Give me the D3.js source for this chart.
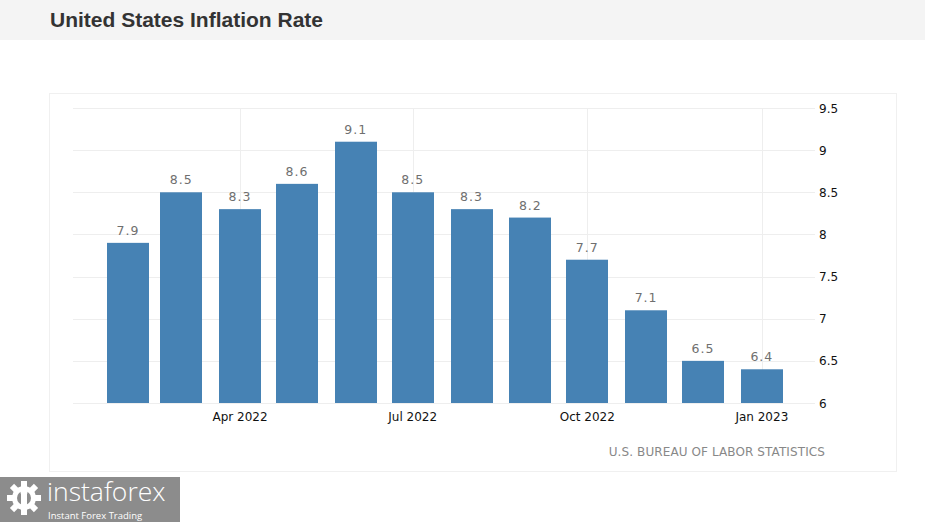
<!DOCTYPE html>
<html><head><meta charset="utf-8">
<script src="https://cdn.jsdelivr.net/npm/d3@7"></script>
<style>
html,body{margin:0;padding:0;background:#fff;}
svg{display:block;}
</style></head>
<body>
<svg id="chart" width="925" height="522"></svg>
<script>
const months = ["2022-02","2022-03","2022-04","2022-05","2022-06","2022-07","2022-08","2022-09","2022-10","2022-11","2022-12","2023-01"];
const values = [7.9,8.5,8.3,8.6,9.1,8.5,8.3,8.2,7.7,7.1,6.5,6.4];
const xTickDates = ["2022-04","2022-07","2022-10","2023-01"];
const xTickLabels = ["Apr 2022","Jul 2022","Oct 2022","Jan 2023"];
const yTicks = [6,6.5,7,7.5,8,8.5,9,9.5];
const yTickLabels = ["6","6.5","7","7.5","8","8.5","9","9.5"];

const parse = d3.timeParse("%Y-%m");
const svg = d3.select("#chart");

// header band
svg.append("rect").attr("x",0).attr("y",0).attr("width",925).attr("height",40).attr("fill","#f4f4f4");
svg.append("text").attr("x",50).attr("y",27).text("United States Inflation Rate")
  .attr("font-family","Liberation Sans, Arial, sans-serif").attr("font-weight","bold")
  .attr("font-size",21).attr("fill","#333");

// panel border
svg.append("rect").attr("x",49.5).attr("y",93.5).attr("width",847).attr("height",378)
  .attr("fill","none").attr("stroke","#f0f0f0");

const x = d3.scaleTime().domain([new Date(2022,0,3), new Date(2023,0,29)]).range([73,815]);
const y = d3.scaleLinear().domain([6,9.5]).range([403,108]);

// grid
const gy = svg.append("g");
gy.selectAll("line").data(yTicks).join("line")
  .attr("x1",73).attr("x2",815).attr("y1",d=>Math.round(y(d))+0.5).attr("y2",d=>Math.round(y(d))+0.5)
  .attr("stroke","#eeeeee");
const gx = svg.append("g");
gx.selectAll("line").data(xTickDates).join("line")
  .attr("x1",d=>Math.round(x(parse(d)))+0.5).attr("x2",d=>Math.round(x(parse(d)))+0.5)
  .attr("y1",108).attr("y2",403).attr("stroke","#eeeeee");

// bars
const bw = 42;
svg.append("g").selectAll("rect").data(months).join("rect")
  .attr("x",(d)=>Math.round(x(parse(d))-bw/2))
  .attr("y",(d,i)=>y(values[i]))
  .attr("width",bw)
  .attr("height",(d,i)=>y(6)-y(values[i]))
  .attr("fill","#4682b4");

// value labels
svg.append("g").selectAll("text").data(months).join("text")
  .attr("x",d=>x(parse(d)))
  .attr("y",(d,i)=>y(values[i])-8)
  .attr("text-anchor","middle")
  .attr("font-family","DejaVu Sans, sans-serif").attr("font-size",12.5)
  .attr("letter-spacing",1)
  .attr("fill","#6f6f6f")
  .text((d,i)=>values[i]);

// x axis labels
svg.append("g").selectAll("text").data(xTickDates).join("text")
  .attr("x",d=>x(parse(d))).attr("y",421)
  .attr("text-anchor","middle")
  .attr("font-family","DejaVu Sans, sans-serif").attr("font-size",12)
  .attr("fill","#111")
  .text((d,i)=>xTickLabels[i]);

// y axis labels
svg.append("g").selectAll("text").data(yTicks).join("text")
  .attr("x",819).attr("y",d=>y(d)+4.5)
  .attr("font-family","DejaVu Sans, sans-serif").attr("font-size",12)
  .attr("fill","#111")
  .text((d,i)=>yTickLabels[i]);

// source
svg.append("text").attr("x",825).attr("y",456).attr("text-anchor","end")
  .attr("font-family","DejaVu Sans, sans-serif").attr("font-size",12)
  .attr("letter-spacing",0.1)
  .attr("fill","#888").text("U.S. BUREAU OF LABOR STATISTICS");

// logo
const logo = svg.append("g");
logo.append("rect").attr("x",0).attr("y",477).attr("width",180).attr("height",45).attr("fill","#8c8c8c");
const gear = logo.append("g").attr("transform","translate(24,498)");
const teeth = d3.range(8);
gear.selectAll("rect").data(teeth).join("rect")
  .attr("x",-3).attr("y",-17).attr("width",6).attr("height",8)
  .attr("fill","#fff").attr("transform",d=>`rotate(${d*45})`);
gear.append("circle").attr("r",12).attr("fill","#fff");
gear.append("circle").attr("r",7).attr("fill","#8c8c8c");
gear.append("rect").attr("x",-3).attr("y",-4).attr("width",6).attr("height",18).attr("fill","#fff");
gear.append("circle").attr("cy",-6).attr("r",3.5).attr("fill","#fff");
logo.append("text").attr("x",47).attr("y",501).text("instaforex")
  .attr("font-family","Open Sans, sans-serif").attr("font-size",26.5).attr("font-weight",300)
  .attr("fill","#fff");
logo.append("text").attr("x",48).attr("y",518.5).text("Instant Forex Trading")
  .attr("font-family","Open Sans, sans-serif").attr("font-size",9.5)
  .attr("fill","#fff");
</script>
</body></html>
